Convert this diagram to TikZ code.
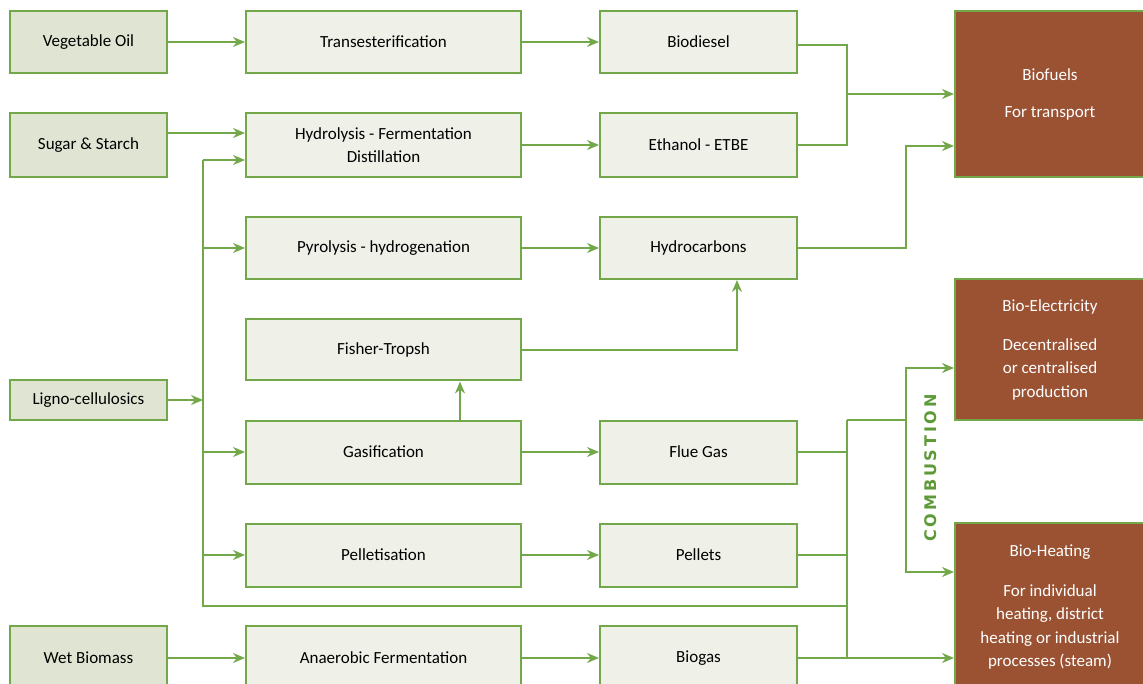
\documentclass[tikz,border=0pt]{standalone}
\usepackage{fontspec}
\setmainfont{Carlito}
\newfontfamily\combfont[LetterSpace=18]{DejaVu Sans}
\usetikzlibrary{arrows.meta}
\definecolor{lgreen}{HTML}{72A84A}
\definecolor{cgreen}{HTML}{5E9A38}
\definecolor{srcfill}{HTML}{E0E5D3}
\definecolor{procfill}{HTML}{EFF0E8}
\definecolor{brownfill}{HTML}{9A5233}
\tikzset{
  base/.style={draw=lgreen, line width=2pt, font=\fontsize{17}{23}\selectfont, align=center, inner sep=0pt},
  src/.style={base, fill=srcfill, minimum width=157pt},
  proc/.style={base, fill=procfill, minimum width=275pt},
  prod/.style={base, fill=procfill, minimum width=197pt},
  outb/.style={base, fill=brownfill, text=white, minimum width=190pt, font=\fontsize{17}{23.5}\selectfont},
  line/.style={draw=lgreen, line width=2pt},
  arr/.style={line, -{Stealth[length=12pt,width=10pt]}},
  arrb/.style={line, {Stealth[length=12pt,width=10pt]}-{Stealth[length=12pt,width=10pt]}},
}
\begin{document}
\begin{tikzpicture}[x=1pt,y=-1pt]
\useasboundingbox (0,0) rectangle (1143,684);
% column 1
\node[src, minimum height=62pt] (veg) at (88.5,42) {Vegetable Oil};
\node[src, minimum height=64pt] (sugar) at (88.5,145) {Sugar \& Starch};
\node[src, minimum height=39pt] (ligno) at (88.5,400) {Ligno-cellulosics};
\node[src, minimum height=64pt] (wet) at (88.5,658) {Wet Biomass};
% column 2
\node[proc, minimum height=62pt] (trans) at (383.5,42) {Transesterification};
\node[proc, minimum height=64pt] (hydro) at (383.5,145) {Hydrolysis - Fermentation\\Distillation};
\node[proc, minimum height=62pt] (pyro) at (383.5,248) {Pyrolysis - hydrogenation};
\node[proc, minimum height=61pt] (fisher) at (383.5,350) {Fisher-Tropsh};
\node[proc, minimum height=63pt] (gas) at (383.5,452) {Gasification};
\node[proc, minimum height=63pt] (pellet) at (383.5,555) {Pelletisation};
\node[proc, minimum height=64pt] (anaer) at (383.5,658) {Anaerobic Fermentation};
% column 3
\node[prod, minimum height=62pt] (biod) at (698.5,42) {Biodiesel};
\node[prod, minimum height=64pt] (eth) at (698.5,145) {Ethanol - ETBE};
\node[prod, minimum height=62pt] (hc) at (698.5,248) {Hydrocarbons};
\node[prod, minimum height=63pt] (flue) at (698.5,452) {Flue Gas};
\node[prod, minimum height=63pt] (pellets) at (698.5,555) {Pellets};
\node[prod, minimum height=64pt] (biogas) at (698.5,658) {Biogas};
% outputs
\node[outb, minimum height=166pt, anchor=west] (fuel) at (954,94) {\raisebox{-3pt}{Biofuels}\\[16.5pt]For transport};
\node[outb, minimum height=141pt, anchor=west] (elec) at (954,349.5) {Bio-Electricity\\[15.5pt]Decentralised\\or centralised\\production};
\node[outb, minimum height=168pt, anchor=west] (heat) at (954,607) {Bio-Heating\\[16.5pt]For individual\\heating, district\\heating or industrial\\processes (steam)};
\node[rotate=90, text=cgreen, font=\combfont\bfseries\fontsize{16}{16}\selectfont] (comb) at (931,468) {COMBUSTION};
% junction coordinates
\coordinate (lv) at (203,160);
\coordinate (lb) at (203,606);
\coordinate (cb) at (847,606);
\coordinate (ct) at (847,420);
\coordinate (cbot) at (847,658);
\coordinate (j1) at (847,94);
\coordinate (jb) at (906,146);
\coordinate (ce0) at (906,420);
\coordinate (ce1) at (906,368);
\coordinate (ce2) at (906,572);
% straight flows
\draw[arr] (veg) -- (trans);
\draw[arr] (trans) -- (biod);
\draw[arr] ([yshift=12pt]sugar.east) -- ([yshift=12pt]hydro.west);
\draw[arr] (hydro) -- (eth);
\draw[arr] (pyro) -- (hc);
\draw[arr] (gas) -- (flue);
\draw[arr] (pellet) -- (pellets);
\draw[arr] (wet) -- (anaer);
\draw[arr] (anaer) -- (biogas);
% ligno-cellulosics distribution
\draw[arr] (ligno.east) -- (ligno.east -| lv);
\draw[line] (lv) -- (lb) -- (cb);
\draw[arr] (lv) -- (lv -| hydro.west);
\draw[arr] (lv |- pyro.west) -- (pyro.west);
\draw[arr] (lv |- gas.west) -- (gas.west);
\draw[arr] (lv |- pellet.west) -- (pellet.west);
% gasification to fisher-tropsh to hydrocarbons
\draw[arr] ([xshift=76.5pt]gas.north) -- ([xshift=76.5pt]fisher.south);
\draw[arr] (fisher.east) -| ([xshift=38.5pt]hc.south);
% to biofuels
\draw[line] ([yshift=-3pt]biod.east) -| (j1 |- eth.east) -- (eth.east);
\draw[arr] (j1) -- (j1 -| fuel.west);
\draw[arr] (hc.east) -| (jb) -- (jb -| fuel.west);
% combustion collector
\draw[line] (flue.east) -- (flue.east -| ct);
\draw[line] (pellets.east) -- (pellets.east -| ct);
\draw[line] (ct) -- (cbot);
\draw[arr] (biogas.east) -- (biogas.east -| heat.west);
\draw[line] (ct) -- (ce0);
\draw[arrb] (ce1 -| elec.west) -- (ce1) -- (ce2) -- (ce2 -| heat.west);
\end{tikzpicture}
\end{document}
